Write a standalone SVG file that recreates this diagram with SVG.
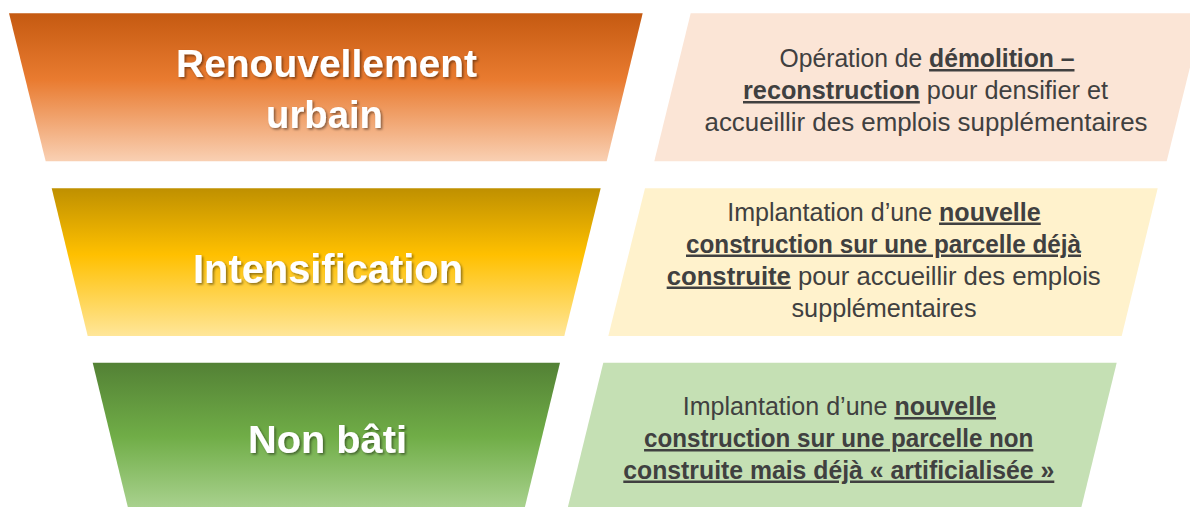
<svg xmlns="http://www.w3.org/2000/svg" width="1190" height="507" viewBox="0 0 1190 507">
<defs>
<linearGradient id="gOrange" x1="0" y1="0" x2="0" y2="1"><stop offset="0" stop-color="#C55A11"/><stop offset="0.45" stop-color="#E97B30"/><stop offset="1" stop-color="#F9D0B3"/></linearGradient>
<linearGradient id="gYellow" x1="0" y1="0" x2="0" y2="1"><stop offset="0" stop-color="#BF9000"/><stop offset="0.45" stop-color="#FFC000"/><stop offset="1" stop-color="#FFE699"/></linearGradient>
<linearGradient id="gGreen" x1="0" y1="0" x2="0" y2="1"><stop offset="0" stop-color="#538135"/><stop offset="0.5" stop-color="#70AD47"/><stop offset="1" stop-color="#ABD391"/></linearGradient>
<filter id="shadow" x="-10%" y="-30%" width="120%" height="160%"><feDropShadow dx="1.6" dy="1.6" stdDeviation="1" flood-color="#000" flood-opacity="0.45"/></filter>
</defs>
<style>
.title{font-family:"Liberation Sans",Arial,sans-serif;font-weight:bold;font-size:39px;fill:#FFFFFF;text-anchor:middle;filter:url(#shadow)}
.desc{font-family:"Liberation Sans",Arial,sans-serif;font-size:25px;fill:#404040;text-anchor:middle}
.b{font-weight:bold}
.u{font-weight:bold;text-decoration:underline}
</style>
<rect width="1190" height="507" fill="#FFFFFF"/>
<g id="renouvellement">
<path d="M9,13.3 L642.7,13.3 L606.7,161.3 L45.7,161.3 Z" fill="url(#gOrange)"/>
<text class="title" x="326.5" y="76.7" textLength="301" lengthAdjust="spacingAndGlyphs">Renouvellement</text>
<text class="title" x="324.5" y="128.3" textLength="117" lengthAdjust="spacingAndGlyphs">urbain</text>
</g>
<g id="renouvellement-desc">
<path d="M690.7,13.3 L1203.4,13.3 L1166.7,161.3 L654.3,161.3 Z" fill="#FBE5D6"/>
<text class="desc" x="927" y="67" textLength="295" lengthAdjust="spacingAndGlyphs">Opération de <tspan class="u">démolition –</tspan></text>
<text class="desc" x="925.5" y="99" textLength="365" lengthAdjust="spacingAndGlyphs"><tspan class="u">reconstruction</tspan> pour densifier et</text>
<text class="desc" x="926" y="131" textLength="443" lengthAdjust="spacingAndGlyphs">accueillir des emplois supplémentaires</text>
</g>
<g id="intensification">
<path d="M51.7,188.3 L600.7,188.3 L564.3,336 L87.7,336 Z" fill="url(#gYellow)"/>
<text class="title" x="328" y="283.3" font-size="40" style="font-size:40px" textLength="270" lengthAdjust="spacingAndGlyphs">Intensification</text>
</g>
<g id="intensification-desc">
<path d="M645,188.3 L1157.7,188.3 L1121.7,336 L608.3,336 Z" fill="#FFF2CC"/>
<text class="desc" x="884" y="220.5" textLength="313.5" lengthAdjust="spacingAndGlyphs">Implantation d’une <tspan class="u">nouvelle</tspan></text>
<text class="desc" x="883.5" y="252.5" textLength="395" lengthAdjust="spacingAndGlyphs"><tspan class="u">construction sur une parcelle déjà</tspan></text>
<text class="desc" x="883.7" y="284.5" textLength="434" lengthAdjust="spacingAndGlyphs"><tspan class="u">construite</tspan> pour accueillir des emplois</text>
<text class="desc" x="884" y="316.5" textLength="185" lengthAdjust="spacingAndGlyphs">supplémentaires</text>
</g>
<g id="non-bati">
<path d="M92.7,362.7 L560,362.7 L524,510.7 L128.7,510.7 Z" fill="url(#gGreen)"/>
<text class="title" x="327.5" y="453.3" textLength="159" lengthAdjust="spacingAndGlyphs">Non bâti</text>
</g>
<g id="non-bati-desc">
<path d="M603.3,362.7 L1116.7,362.7 L1080.5,510.7 L567,510.7 Z" fill="#C5E0B4"/>
<text class="desc" x="839.4" y="415" textLength="313.3" lengthAdjust="spacingAndGlyphs">Implantation d’une <tspan class="u">nouvelle</tspan></text>
<text class="desc" x="838.7" y="447" textLength="389.3" lengthAdjust="spacingAndGlyphs"><tspan class="u">construction sur une parcelle non</tspan></text>
<text class="desc" x="838.8" y="478.5" textLength="431" lengthAdjust="spacingAndGlyphs"><tspan class="u">construite mais déjà « artificialisée »</tspan></text>
</g>
</svg>
